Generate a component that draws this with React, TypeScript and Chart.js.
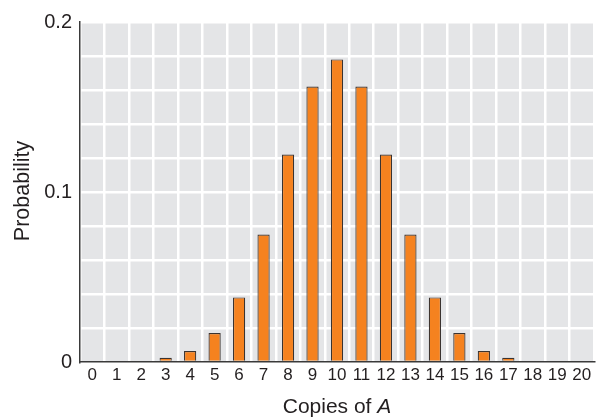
import React, { useEffect, useRef } from "react";
import { Chart, registerables } from "chart.js";

Chart.register(...registerables);

const categories = ["0","1","2","3","4","5","6","7","8","9","10","11","12","13","14","15","16","17","18","19","20"];
const probabilities = [0, 0, 0, 0.0025, 0.0065, 0.017, 0.038, 0.075, 0.122, 0.162, 0.178, 0.162, 0.122, 0.075, 0.038, 0.017, 0.0065, 0.0025, 0, 0, 0];
const yMin = 0;
const yMax = 0.2;
const yStep = 0.02;
const xTitleNormal = "Copies of ";
const xTitleItalic = "A";
const yTitle = "Probability";

const FONT = "'Liberation Sans', Arial, Helvetica, sans-serif";
const TEXT = "#231f20";

const W = 599;
const H = 417;

const bgPlugin = {
  id: "bgPlugin",
  beforeDraw(chart: any) {
    const { ctx, chartArea } = chart;
    ctx.save();
    ctx.fillStyle = "#e4e5e7";
    ctx.fillRect(chartArea.left, chartArea.top, chartArea.right - chartArea.left, chartArea.bottom - chartArea.top);
    ctx.restore();
  },
  afterDraw(chart: any) {
    const { ctx, chartArea } = chart;
    ctx.save();
    ctx.fillStyle = TEXT;
    ctx.textBaseline = "middle";
    // x title
    ctx.font = `21px ${FONT}`;
    const w1 = ctx.measureText(xTitleNormal).width;
    ctx.font = `italic 21px ${FONT}`;
    const w2 = ctx.measureText(xTitleItalic).width;
    const cx = (chartArea.left + chartArea.right) / 2;
    const startX = cx - (w1 + w2) / 2;
    ctx.textAlign = "left";
    ctx.font = `21px ${FONT}`;
    ctx.fillText(xTitleNormal, startX, 407);
    ctx.font = `italic 21px ${FONT}`;
    ctx.fillText(xTitleItalic, startX + w1, 407);
    // y title
    ctx.translate(23, 191);
    ctx.rotate(-Math.PI / 2);
    ctx.textAlign = "center";
    ctx.font = `21.5px ${FONT}`;
    ctx.fillText(yTitle, 0, 0);
    ctx.restore();
  },
};

export default function App() {
  const ref = useRef<HTMLCanvasElement | null>(null);
  useEffect(() => {
    document.body.style.margin = "0";
    const canvas = ref.current!;
    const chart = new Chart(canvas, {
      type: "bar",
      data: {
        labels: categories,
        datasets: [
          {
            data: probabilities,
            backgroundColor: "#f5821f",
            borderColor: "#3a3330",
            borderWidth: 1.2,
            borderSkipped: "bottom",
            barPercentage: 0.5,
            categoryPercentage: 1,
          },
        ],
      },
      options: {
        animation: false,
        responsive: false,
        maintainAspectRatio: false,
        devicePixelRatio: 1,
        layout: { padding: { top: 22, right: 5, left: 0, bottom: 0 } },
        plugins: { legend: { display: false }, tooltip: { enabled: false }, title: { display: false } },
        scales: {
          x: {
            grid: { color: "#ffffff", lineWidth: 2.5, drawTicks: false, offset: true },
            border: { display: true, color: "#3a3a3a", width: 1.5 },
            ticks: { color: TEXT, font: { family: FONT, size: 17 }, padding: 3, maxRotation: 0, autoSkip: false },
            afterFit(scale: any) {
              scale.height = 55;
            },
          },
          y: {
            min: yMin,
            max: yMax,
            grid: { color: "#ffffff", lineWidth: 2.5, drawTicks: false },
            border: { display: true, color: "#3a3a3a", width: 1.5 },
            ticks: {
              stepSize: yStep,
              color: TEXT,
              font: { family: FONT, size: 20 },
              padding: 8,
              callback(v: any) {
                const n = Number(v);
                if (Math.abs(n * 10 - Math.round(n * 10)) < 1e-6) {
                  const r = Math.round(n * 10) / 10;
                  return r === 0 ? "0" : r.toFixed(1);
                }
                return "";
              },
            },
            afterFit(scale: any) {
              scale.width = 80;
            },
          },
        },
      },
      plugins: [bgPlugin],
    });
    return () => chart.destroy();
  }, []);
  return <canvas ref={ref} width={W} height={H} style={{ display: "block", width: W, height: H }} />;
}
